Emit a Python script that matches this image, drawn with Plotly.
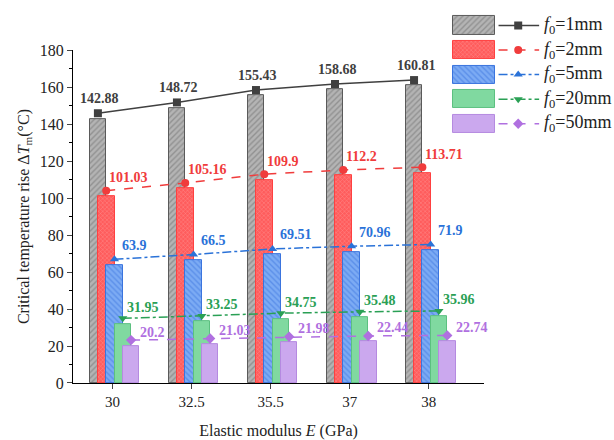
import plotly.graph_objects as go

categories = ["30", "32.5", "35.5", "37", "38"]
series_names = ["1mm", "2mm", "5mm", "20mm", "50mm"]
v_1mm = [142.88, 148.72, 155.43, 158.68, 160.81]
v_2mm = [101.03, 105.16, 109.9, 112.2, 113.71]
v_5mm = [63.9, 66.5, 69.51, 70.96, 71.9]
v_20mm = [31.95, 33.25, 34.75, 35.48, 35.96]
v_50mm = [20.2, 21.03, 21.98, 22.44, 22.74]
values = [v_1mm, v_2mm, v_5mm, v_20mm, v_50mm]
y_ticks = [0, 20, 40, 60, 80, 100, 120, 140, 160, 180]

FONT = "Liberation Serif"
bar_styles = [
    dict(color="#a8a8a8", pattern=dict(shape="/", fgcolor="#6e6e6e", bgcolor="#b4b4b4", size=4, solidity=0.35), line=dict(color="#5a5a5a", width=1)),
    dict(color="#ff6a6a", pattern=dict(shape="x", fgcolor="#ffb4b4", bgcolor="#ff5c5c", size=3, solidity=0.3), line=dict(color="#ff4040", width=1)),
    dict(color="#6d9ff0", pattern=dict(shape="\\", fgcolor="#3a74de", bgcolor="#7cabf4", size=4, solidity=0.35), line=dict(color="#3a74de", width=1)),
    dict(color="#80d9a0", line=dict(color="#5cc080", width=1)),
    dict(color="#cba8ee", line=dict(color="#b58ae0", width=1)),
]
line_colors = ["#404040", "#f03c3c", "#2a72d8", "#2aa055", "#b070e0"]
dashes = ["solid", "dash", "dashdot", "dashdot", "dash"]
symbols = ["square", "circle", "triangle-up", "triangle-down", "diamond"]
# label placement relative to marker (pixels)
lab_anchor = ["center", "left", "left", "left", "left"]
lab_xshift = [2, 1, 5, 2, 7]
lab_yshift = [15, 13, 14, 11, 8]

offsets = [-0.185, -0.08, 0.025, 0.13, 0.235]
bar_w = 0.21
line_lift = 3.0

fig = go.Figure()
idx = list(range(len(categories)))
for s in range(5):
    xs = [i + offsets[s] for i in idx]
    fig.add_trace(go.Bar(x=xs, y=values[s], width=bar_w, marker=bar_styles[s],
                         showlegend=False, xaxis="x", yaxis="y"))
annotations = []
for s in range(5):
    xs = [i + offsets[s] for i in idx]
    ys = [v + line_lift for v in values[s]]
    fig.add_trace(go.Scatter(
        x=xs, y=ys, mode="lines+markers",
        line=dict(color=line_colors[s], width=1.5, dash=dashes[s]),
        marker=dict(symbol=symbols[s], size=8, color=line_colors[s]),
        showlegend=False, xaxis="x", yaxis="y", cliponaxis=False))
    for x, y, v in zip(xs, ys, values[s]):
        annotations.append(dict(
            x=x, y=y, xref="x", yref="y", text=f"<b>{v:g}</b>", showarrow=False,
            xanchor=lab_anchor[s], yanchor="middle",
            xshift=lab_xshift[s], yshift=lab_yshift[s],
            font=dict(family=FONT, size=14, color=line_colors[s])))

# manual legend in its own axes (row index = series index)
rows = list(range(5))
for s in rows:
    fig.add_trace(go.Bar(x=[1.0], y=[s], base=[0.0], orientation="h", width=0.74,
                         marker=bar_styles[s], showlegend=False,
                         xaxis="x2", yaxis="y2"))
    fig.add_trace(go.Scatter(x=[1.08, 1.55, 2.05], y=[s, s, s], mode="lines",
                             line=dict(color=line_colors[s], width=1.5, dash=dashes[s]),
                             showlegend=False, xaxis="x2", yaxis="y2"))
    fig.add_trace(go.Scatter(x=[1.55], y=[s], mode="markers",
                             marker=dict(symbol=symbols[s], size=8, color=line_colors[s]),
                             showlegend=False, xaxis="x2", yaxis="y2"))
    annotations.append(dict(
        x=2.12, y=s, xref="x2", yref="y2", showarrow=False,
        text=f"<i>f</i><sub>0</sub>={series_names[s]}",
        xanchor="left", yanchor="middle",
        font=dict(family=FONT, size=18, color="#222")))

W, H = 614, 440
ml, mr, mt, mb = 73, 10, 2, 57
pw, ph = W - ml - mr, H - mt - mb
plot_right = 484
plot_top = 43

fig.update_layout(
    width=W, height=H,
    margin=dict(l=ml, r=mr, t=mt, b=mb),
    paper_bgcolor="white", plot_bgcolor="white",
    barmode="overlay", bargap=0,
    font=dict(family=FONT, size=15, color="#222"),
    annotations=annotations,
    xaxis=dict(domain=[0, (plot_right - ml) / pw], range=[-0.5, 4.7],
               tickvals=idx, ticktext=categories, ticks="outside", ticklen=5,
               showline=True, linecolor="black", linewidth=1.2, showgrid=False,
               zeroline=False, tickfont=dict(size=15),
               title=dict(text="Elastic modulus <i>E</i> (GPa)", font=dict(size=16), standoff=15)),
    yaxis=dict(domain=[0, (H - mb - plot_top) / ph], range=[0, 180], tickvals=y_ticks,
               ticks="outside", ticklen=5, showline=True, linecolor="black", linewidth=1.2,
               showgrid=False, zeroline=False, tickfont=dict(size=16),
               minor=dict(ticks="outside", ticklen=3, dtick=10, tickcolor="black"),
               title=dict(text="Critical temperature rise Δ<i>T</i><sub>m</sub>(°C)",
                          font=dict(size=16), standoff=6)),
    xaxis2=dict(domain=[(450 - ml) / pw, (604 - ml) / pw], range=[-0.08, 3.6], visible=False,
                fixedrange=True, anchor="y2"),
    yaxis2=dict(domain=[(H - mb - 132) / ph, (H - mb - 4) / ph], range=[4.55, -0.55],
                visible=False, fixedrange=True, anchor="x2"),
)

fig.write_html("out.html")
